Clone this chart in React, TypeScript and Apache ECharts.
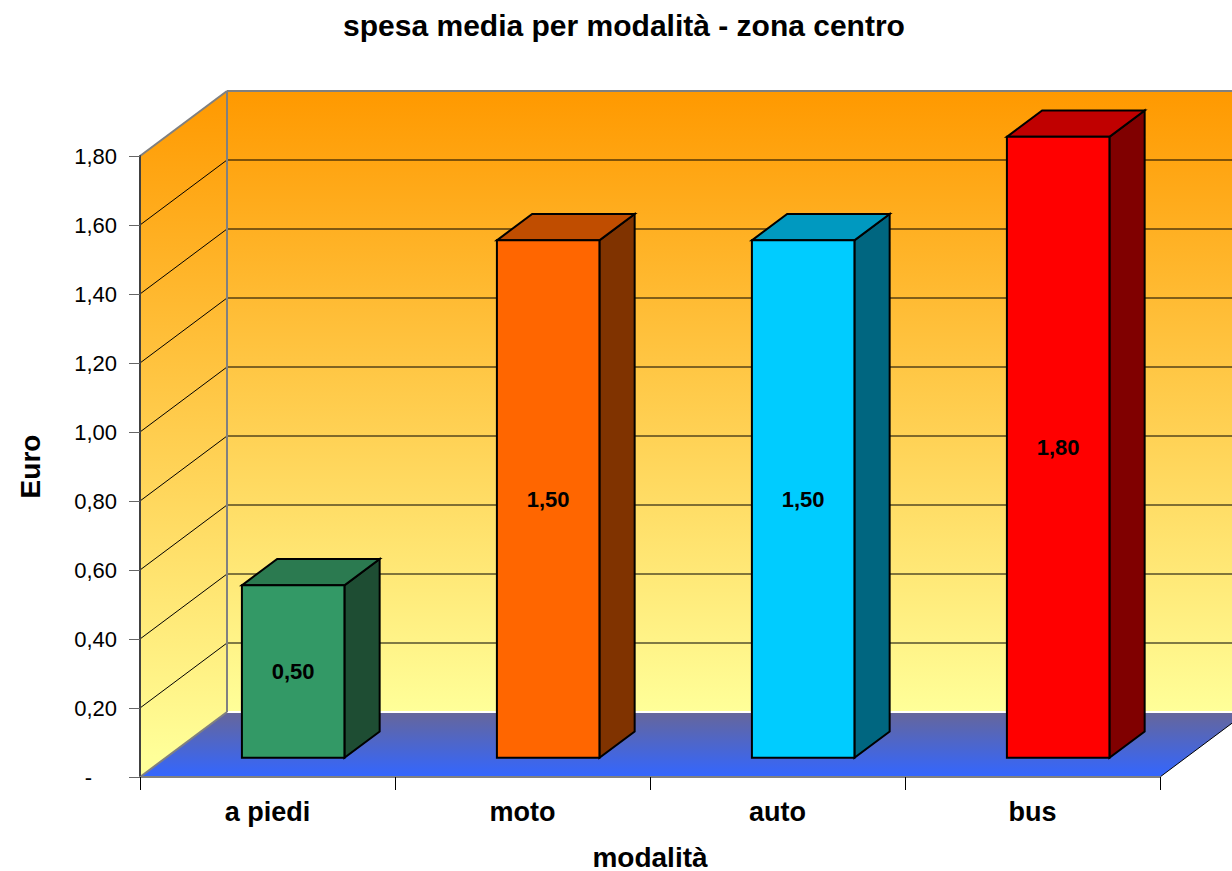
import React, { useEffect, useRef } from 'react';
import * as echarts from 'echarts';

const TITLE = 'spesa media per modalità - zona centro';
const X_NAME = 'modalità';
const Y_NAME = 'Euro';
const categories = ['a piedi', 'moto', 'auto', 'bus'];
const values = [0.5, 1.5, 1.5, 1.8];
const frontColors = ['#339966', '#FF6600', '#00CCFF', '#FF0000'];
const topColors = ['#2B7A50', '#C04D00', '#0099C0', '#C00000'];
const sideColors = ['#1E4D33', '#803300', '#006680', '#800000'];
const yGrid = [0, 0.2, 0.4, 0.6, 0.8, 1.0, 1.2, 1.4, 1.6, 1.8];
const Y_MIN = 0;
const Y_MAX = 1.8;
const Y_STEP = 0.2;

// 3D projection
const DX = 87;
const DY = -65;
const D0 = 0.295;
const D1 = 0.7;
const BAR_W = 0.402;
const FONT = '"Liberation Sans", Arial, sans-serif';

const fmt = (v: number) => v.toFixed(2).replace('.', ',');

export default function App() {
  const ref = useRef<HTMLDivElement>(null);
  useEffect(() => {
    if (!ref.current) return;
    const chart = echarts.init(ref.current, null, { renderer: 'svg' });

    const wallsRender = (params: any, api: any) => {
      const cs = params.coordSys;
      const x0 = cs.x;
      const x1 = cs.x + cs.width;
      const yb = api.coord([0, Y_MIN])[1];
      const yt = api.coord([0, Y_MAX])[1];
      const wallGrad = new echarts.graphic.LinearGradient(
        0, yt + DY, 0, yb + DY,
        [{ offset: 0, color: '#FF9900' }, { offset: 1, color: '#FFFF99' }],
        true
      );
      const leftGrad = new echarts.graphic.LinearGradient(
        0, yt + DY, 0, yb - 20,
        [{ offset: 0, color: '#FF9900' }, { offset: 1, color: '#FFFF99' }],
        true
      );
      const floorGrad = new echarts.graphic.LinearGradient(
        0, yb + DY, 0, yb,
        [{ offset: 0, color: '#66669A' }, { offset: 1, color: '#3366FF' }],
        true
      );
      const children: any[] = [];
      children.push({
        type: 'polygon',
        shape: { points: [[x0 + DX, yt + DY], [x1 + DX, yt + DY], [x1 + DX, yb + DY], [x0 + DX, yb + DY]] },
        style: { fill: wallGrad },
        silent: true,
      });
      children.push({
        type: 'polygon',
        shape: { points: [[x0, yb], [x0, yt], [x0 + DX, yt + DY], [x0 + DX, yb + DY]] },
        style: { fill: leftGrad },
        silent: true,
      });
      children.push({
        type: 'polygon',
        shape: { points: [[x0, yb], [x1, yb], [x1 + DX, yb + DY], [x0 + DX, yb + DY]] },
        style: { fill: floorGrad },
        silent: true,
      });
      yGrid.forEach((v) => {
        if (v <= Y_MIN || v >= Y_MAX) return;
        const y = api.coord([0, v])[1];
        children.push({
          type: 'line',
          shape: { x1: x0 + DX, y1: y + DY, x2: x1 + DX, y2: y + DY },
          style: { stroke: '#000', lineWidth: 1 },
          silent: true,
        });
        children.push({
          type: 'line',
          shape: { x1: x0, y1: y, x2: x0 + DX, y2: y + DY },
          style: { stroke: '#000', lineWidth: 1 },
          silent: true,
        });
      });
      // wall bottom highlight
      children.push({
        type: 'line',
        shape: { x1: x0 + DX, y1: yb + DY, x2: x1 + DX, y2: yb + DY },
        style: { stroke: '#FFFFFF', lineWidth: 2 },
        silent: true,
      });
      // edges
      const gray = { stroke: '#808080', lineWidth: 2 };
      children.push({ type: 'line', shape: { x1: x0 + DX, y1: yt + DY, x2: x1 + DX, y2: yt + DY }, style: gray, silent: true });
      children.push({ type: 'line', shape: { x1: x0 + DX, y1: yt + DY, x2: x0 + DX, y2: yb + DY }, style: gray, silent: true });
      children.push({ type: 'line', shape: { x1: x0, y1: yt, x2: x0 + DX, y2: yt + DY }, style: gray, silent: true });
      children.push({ type: 'line', shape: { x1: x0, y1: yb, x2: x0 + DX, y2: yb + DY }, style: gray, silent: true });
      children.push({
        type: 'line',
        shape: { x1: x1, y1: yb, x2: x1 + DX, y2: yb + DY },
        style: { stroke: '#000', lineWidth: 1 },
        silent: true,
      });
      return { type: 'group', children };
    };

    const barsRender = (params: any, api: any) => {
      const idx = api.value(0);
      const v = api.value(1);
      const c = api.coord([idx, Y_MIN]);
      const t = api.coord([idx, v]);
      const band = api.size([1, 0])[0];
      const w = band * BAR_W;
      const ox0 = DX * D0;
      const oy0 = DY * D0;
      const ddx = DX * (D1 - D0);
      const ddy = DY * (D1 - D0);
      const xl = c[0] - w / 2 + ox0;
      const xr = c[0] + w / 2 + ox0;
      const yb = c[1] + oy0;
      const ytop = t[1] + oy0;
      const edge = { stroke: '#000', lineWidth: 2, lineJoin: 'miter' };
      return {
        type: 'group',
        children: [
          {
            type: 'polygon',
            shape: { points: [[xr, ytop], [xr + ddx, ytop + ddy], [xr + ddx, yb + ddy], [xr, yb]] },
            style: { fill: sideColors[idx], ...edge },
          },
          {
            type: 'polygon',
            shape: { points: [[xl, ytop], [xl + ddx, ytop + ddy], [xr + ddx, ytop + ddy], [xr, ytop]] },
            style: { fill: topColors[idx], ...edge },
          },
          {
            type: 'polygon',
            shape: { points: [[xl, ytop], [xr, ytop], [xr, yb], [xl, yb]] },
            style: { fill: frontColors[idx], ...edge },
          },
          {
            type: 'text',
            x: (xl + xr) / 2,
            y: (ytop + yb) / 2,
            style: {
              text: fmt(v),
              fill: '#000',
              font: 'bold 22px ' + FONT,
              align: 'center',
              verticalAlign: 'middle',
            },
          },
        ],
      };
    };

    chart.setOption({
      animation: false,
      backgroundColor: '#FFFFFF',
      graphic: [
        {
          type: 'text',
          x: 624,
          y: 25,
          style: {
            text: TITLE,
            fill: '#000',
            font: 'bold 30px ' + FONT,
            align: 'center',
            verticalAlign: 'middle',
          },
        },
      ],
      grid: { left: 140, top: 156, width: 1020, height: 621, containLabel: false, outerBoundsMode: 'none' },
      xAxis: {
        type: 'category',
        data: categories,
        boundaryGap: true,
        z: 10,
        name: X_NAME,
        nameLocation: 'middle',
        nameGap: 66,
        nameTextStyle: { color: '#000', fontFamily: FONT, fontWeight: 'bold', fontSize: 28 },
        axisLine: { show: true, lineStyle: { color: '#808080', width: 2 } },
        axisTick: { show: true, length: 13, lineStyle: { color: '#000', width: 1 } },
        axisLabel: { color: '#000', fontFamily: FONT, fontWeight: 'bold', fontSize: 27, margin: 21 },
        splitLine: { show: false },
      },
      yAxis: {
        type: 'value',
        min: Y_MIN,
        max: Y_MAX,
        interval: Y_STEP,
        z: 10,
        name: Y_NAME,
        nameLocation: 'middle',
        nameGap: 96,
        nameTextStyle: { color: '#000', fontFamily: FONT, fontWeight: 'bold', fontSize: 28 },
        axisLine: { show: true, lineStyle: { color: '#404040', width: 2 } },
        axisTick: { show: true, length: 11, lineStyle: { color: '#666', width: 1 } },
        axisLabel: {
          color: '#000',
          fontFamily: FONT,
          fontSize: 22,
          margin: 23,
          formatter: (v: number) => (v === 0 ? '{z|-}' : fmt(v)),
          rich: { z: { fontFamily: FONT, fontSize: 22, color: '#000', padding: [0, 25, 0, 0] } },
        },
        splitLine: { show: false },
      },
      series: [
        {
          type: 'custom',
          renderItem: wallsRender,
          data: [[0, 0]],
          encode: { x: 0, y: 1 },
          clip: false,
          silent: true,
          z: 1,
        },
        {
          type: 'custom',
          renderItem: barsRender,
          data: values.map((v, i) => [i, v]),
          encode: { x: 0, y: 1 },
          clip: false,
          z: 3,
        },
      ],
    });
    return () => chart.dispose();
  }, []);
  return (
    <div
      ref={ref}
      style={{ position: 'absolute', left: 0, top: 0, width: 1232, height: 871 }}
    />
  );
}
